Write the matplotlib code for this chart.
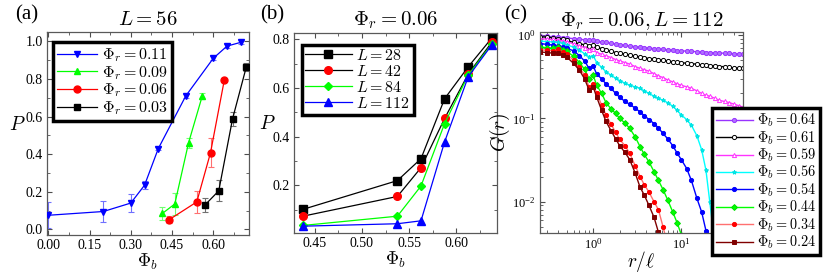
import matplotlib
matplotlib.use("Agg")
import matplotlib.pyplot as plt
from matplotlib.ticker import MultipleLocator

plt.rcParams["font.family"] = ["Liberation Serif", "DejaVu Serif"]
plt.rcParams["mathtext.fontset"] = "cm"

# ---- panel (a): P vs Phi_b at L = 56
phi_b_011 = [0.0, 0.2, 0.3, 0.35, 0.4, 0.5, 0.6, 0.65, 0.7]
p_011 = [0.075, 0.095, 0.14, 0.235, 0.43, 0.71, 0.91, 0.975, 0.995]
e_011 = [0.07, 0.055, 0.05, 0.02, 0.01, 0.01, 0.01, 0.01, 0.01]

phi_b_009 = [0.415, 0.46, 0.51, 0.56]
p_009 = [0.085, 0.135, 0.46, 0.71]
e_009 = [0.035, 0.06, 0.027, 0.018]

phi_b_006 = [0.44, 0.54, 0.59, 0.64]
p_006 = [0.052, 0.146, 0.408, 0.793]
e_006 = [0.02, 0.06, 0.078, 0.01]

phi_b_003 = [0.57, 0.62, 0.67, 0.72]
p_003 = [0.13, 0.205, 0.587, 0.863]
e_003 = [0.037, 0.055, 0.035, 0.02]

# ---- panel (b): P vs Phi_b at Phi_r = 0.06
phi_b_sizes = [0.4375, 0.5375, 0.5625, 0.5875, 0.6125, 0.6375]
p_L28 = [0.102, 0.22, 0.31, 0.556, 0.687, 0.805]
p_L42 = [0.074, 0.155, 0.273, 0.475, 0.657, 0.788]
p_L84 = [0.036, 0.074, 0.198, 0.454, 0.653, 0.781]
p_L112 = [0.033, 0.043, 0.055, 0.379, 0.646, 0.777]

# ---- panel (c): G(r) for Phi_r = 0.06, L = 112
r_vals = [0.25, 0.3, 0.35, 0.4, 0.45, 0.5, 0.6, 0.7, 0.8, 0.9, 1.0, 1.1, 1.25, 1.4,
          1.6, 1.8, 2.0, 2.3, 2.6, 3.0, 3.4, 3.8, 4.3, 4.9, 5.5, 6.2, 7.0, 8.0, 9.0,
          10, 11.5, 13, 15, 17, 19, 21, 24, 27, 31, 35, 40, 45, 50]
g_064 = [0.98, 0.97, 0.96, 0.95, 0.94, 0.93, 0.91, 0.90, 0.88, 0.87, 0.88, 0.85, 0.83,
         0.82, 0.80, 0.785, 0.77, 0.76, 0.745, 0.73, 0.72, 0.71, 0.70, 0.69, 0.68, 0.675,
         0.67, 0.66, 0.655, 0.65, 0.645, 0.64, 0.635, 0.63, 0.62, 0.62, 0.615, 0.61, 0.61,
         0.605, 0.60, 0.60, 0.60]
g_061 = [0.96, 0.95, 0.93, 0.91, 0.89, 0.87, 0.82, 0.79, 0.77, 0.75, 0.76, 0.72, 0.69,
         0.665, 0.64, 0.62, 0.61, 0.595, 0.58, 0.56, 0.55, 0.535, 0.525, 0.515, 0.505, 0.50,
         0.49, 0.48, 0.475, 0.47, 0.46, 0.455, 0.45, 0.44, 0.435, 0.43, 0.43, 0.42, 0.42,
         0.41, 0.405, 0.40, 0.40]
g_059 = [0.91, 0.90, 0.89, 0.88, 0.86, 0.84, 0.79, 0.75, 0.71, 0.67, 0.68, 0.62, 0.59,
         0.565, 0.54, 0.51, 0.49, 0.47, 0.45, 0.42, 0.40, 0.385, 0.37, 0.345, 0.325, 0.31,
         0.29, 0.275, 0.26, 0.25, 0.24, 0.23, 0.215, 0.20, 0.19, 0.185, 0.175, 0.165, 0.16,
         0.155, 0.148, 0.142, 0.137]
g_056 = [0.85, 0.84, 0.83, 0.82, 0.80, 0.77, 0.72, 0.66, 0.60, 0.55, 0.57, 0.47, 0.41,
         0.365, 0.33, 0.305, 0.285, 0.265, 0.25, 0.24, 0.23, 0.215, 0.20, 0.185, 0.175,
         0.165, 0.155, 0.14, 0.125, 0.11, 0.097, 0.083, 0.062, 0.042, 0.024, 0.010, 0.003]
g_054 = [0.79, 0.78, 0.76, 0.75, 0.73, 0.70, 0.65, 0.57, 0.49, 0.40, 0.43, 0.34, 0.30,
         0.26, 0.23, 0.20, 0.18, 0.16, 0.148, 0.133, 0.12, 0.108, 0.097, 0.087, 0.077,
         0.066, 0.057, 0.047, 0.038, 0.032, 0.025, 0.018, 0.011, 0.0075, 0.0045, 0.003]
g_044 = [0.72, 0.71, 0.70, 0.72, 0.67, 0.64, 0.56, 0.47, 0.39, 0.30, 0.33, 0.25, 0.20,
         0.155, 0.13, 0.115, 0.10, 0.088, 0.076, 0.060, 0.046, 0.037, 0.030, 0.023, 0.018,
         0.014, 0.0105, 0.0075, 0.0055, 0.004, 0.003]
g_034 = [0.67, 0.66, 0.65, 0.68, 0.63, 0.60, 0.50, 0.41, 0.33, 0.24, 0.26, 0.20, 0.145,
         0.11, 0.085, 0.068, 0.056, 0.047, 0.038, 0.027, 0.020, 0.016, 0.013, 0.010,
         0.008, 0.005, 0.003]
g_024 = [0.63, 0.62, 0.61, 0.62, 0.58, 0.55, 0.46, 0.38, 0.30, 0.22, 0.24, 0.18, 0.125,
         0.092, 0.071, 0.057, 0.047, 0.039, 0.032, 0.022, 0.015, 0.012, 0.009, 0.0065,
         0.0043, 0.003]

W, H = 830, 273
fig = plt.figure(figsize=(W / 100, H / 100), dpi=100)


def px_axes(x0, y0, x1, y1):
    return fig.add_axes([x0 / W, 1 - y1 / H, (x1 - x0) / W, (y1 - y0) / H])


def style_axes(ax):
    ax.tick_params(which="both", direction="in", top=True, right=True, labelsize=10,
                   color="0.3", pad=3)
    ax.tick_params(which="major", length=3.5)
    ax.tick_params(which="minor", length=2)
    for s in ax.spines.values():
        s.set_color("0.35")
        s.set_linewidth(0.9)


def style_legend(leg):
    fr = leg.get_frame()
    fr.set_edgecolor("black")
    fr.set_linewidth(2.5)
    fr.set_facecolor("white")
    fr.set_alpha(1)


# ---------------- (a)
ax = px_axes(47, 32, 249, 235)
style_axes(ax)
series_a = [
    (phi_b_011, p_011, e_011, "#0000ff", "#7070ff", "v", r"$\Phi_r = 0.11$"),
    (phi_b_009, p_009, e_009, "#00ff00", "#70ff70", "^", r"$\Phi_r = 0.09$"),
    (phi_b_006, p_006, e_006, "#ff0000", "#ff7070", "o", r"$\Phi_r = 0.06$"),
    (phi_b_003, p_003, e_003, "#000000", "#707070", "s", r"$\Phi_r = 0.03$"),
]
for x, y, e, c, ec, m, lab in series_a:
    ax.errorbar(x, y, yerr=e, fmt="none", ecolor=ec, elinewidth=0.8, capsize=2.5,
                capthick=0.8, zorder=2)
    ax.plot(x, y, color=c, marker=m, ms=5, lw=0.9, label=lab, zorder=3)
ax.set_xlim(-0.005, 0.73)
ax.set_ylim(-0.03, 1.05)
ax.xaxis.set_major_locator(MultipleLocator(0.15))
ax.xaxis.set_minor_locator(MultipleLocator(0.075))
ax.yaxis.set_major_locator(MultipleLocator(0.2))
ax.yaxis.set_minor_locator(MultipleLocator(0.1))
ax.xaxis.set_major_formatter(plt.FormatStrFormatter("%.2f"))
ax.yaxis.set_major_formatter(plt.FormatStrFormatter("%.1f"))
ax.set_xlabel(r"$\Phi_b$", fontsize=13, labelpad=0)
ax.set_ylabel(r"$P$", fontsize=14, rotation=0, labelpad=6)
ax.set_title(r"$L = 56$", fontsize=15, pad=5)
leg = ax.legend(loc="upper left", bbox_to_anchor=(0.03, 0.95), fontsize=11.5,
                frameon=True, fancybox=False, handlelength=2.5, handletextpad=0.3,
                labelspacing=0.0, borderpad=0.25, borderaxespad=0)
style_legend(leg)
fig.text(27 / W, 1 - 15 / H, "(a)", fontsize=15, ha="center", va="center")

# ---------------- (b)
ax = px_axes(294, 32.7, 497, 233)
style_axes(ax)
series_b = [
    (p_L28, "#000000", "s", r"$L = 28$"),
    (p_L42, "#ff0000", "o", r"$L = 42$"),
    (p_L84, "#00ff00", "D", r"$L = 84$"),
    (p_L112, "#0000ff", "^", r"$L = 112$"),
]
for y, c, m, lab in series_b:
    ms = 4.5 if m == "D" else 5.5
    line_c = "#000000" if c == "#ff0000" else c
    ax.plot(phi_b_sizes, y, color=line_c, marker=m, mfc=c, mec=c, ms=ms, lw=0.9,
            label=lab)
ax.set_xlim(0.428, 0.643)
ax.set_ylim(0.005, 0.827)
ax.xaxis.set_major_locator(MultipleLocator(0.05))
ax.xaxis.set_minor_locator(MultipleLocator(0.025))
ax.yaxis.set_major_locator(MultipleLocator(0.2))
ax.yaxis.set_minor_locator(MultipleLocator(0.1))
ax.xaxis.set_major_formatter(plt.FormatStrFormatter("%.2f"))
ax.yaxis.set_major_formatter(plt.FormatStrFormatter("%.1f"))
ax.set_xlabel(r"$\Phi_b$", fontsize=13, labelpad=0)
ax.set_ylabel(r"$P$", fontsize=14, rotation=0, labelpad=4)
ax.set_title(r"$\Phi_r = 0.06$", fontsize=15, pad=5)
leg = ax.legend(loc="upper left", bbox_to_anchor=(0.04, 0.94), fontsize=11.5,
                frameon=True, fancybox=False, handlelength=2.9, handletextpad=0.3,
                labelspacing=0.0, borderpad=0.2, borderaxespad=0)
style_legend(leg)
fig.text(272 / W, 1 - 15 / H, "(b)", fontsize=15, ha="center", va="center")

# ---------------- (c)
ax = px_axes(540, 32.5, 743, 233)
style_axes(ax)
series_c = [
    (g_064, "#9933ff", "#9933ff", "o", "#b070ff", r"$\Phi_b = 0.64$"),
    (g_061, "#000000", "#000000", "o", "white", r"$\Phi_b = 0.61$"),
    (g_059, "#ff33ff", "#ff33ff", "^", "white", r"$\Phi_b = 0.59$"),
    (g_056, "#00ffff", "#00e0e0", "*", "#00ffff", r"$\Phi_b = 0.56$"),
    (g_054, "#0000ff", "#0000ff", "o", "#0000ff", r"$\Phi_b = 0.54$"),
    (g_044, "#00ff00", "#00dd00", "D", "#00ff00", r"$\Phi_b = 0.44$"),
    (g_034, "#ff7070", "#ff0000", "o", "#ff0000", r"$\Phi_b = 0.34$"),
    (g_024, "#800000", "#800000", "s", "#800000", r"$\Phi_b = 0.24$"),
]
for g, lc, mc, m, fc, lab in series_c:
    ax.plot(r_vals[:len(g)], g, color=lc, marker=m, mec=mc, mfc=fc, ms=3, mew=0.7,
            lw=1.0, label=lab)
ax.set_xscale("log")
ax.set_yscale("log")
ax.set_xlim(0.25, 50)
ax.set_ylim(0.0042, 1.08)
ax.tick_params(labelsize=9)
ax.set_xlabel(r"$r/\ell$", fontsize=14, labelpad=-2)
ax.set_ylabel(r"$G(r)$", fontsize=14, labelpad=0)
ax.set_title(r"$\Phi_r = 0.06, L = 112$", fontsize=15, pad=5)
leg = ax.legend(loc="upper left", bbox_to_anchor=(0.847, 0.623), fontsize=10.3,
                frameon=True, fancybox=False, handlelength=2.6, handletextpad=0.3,
                labelspacing=0.0, borderpad=0.25, borderaxespad=0)
style_legend(leg)
leg.set_zorder(10)
fig.text(516 / W, 1 - 15 / H, "(c)", fontsize=15, ha="center", va="center")

fig.savefig("out.png", dpi=100)
